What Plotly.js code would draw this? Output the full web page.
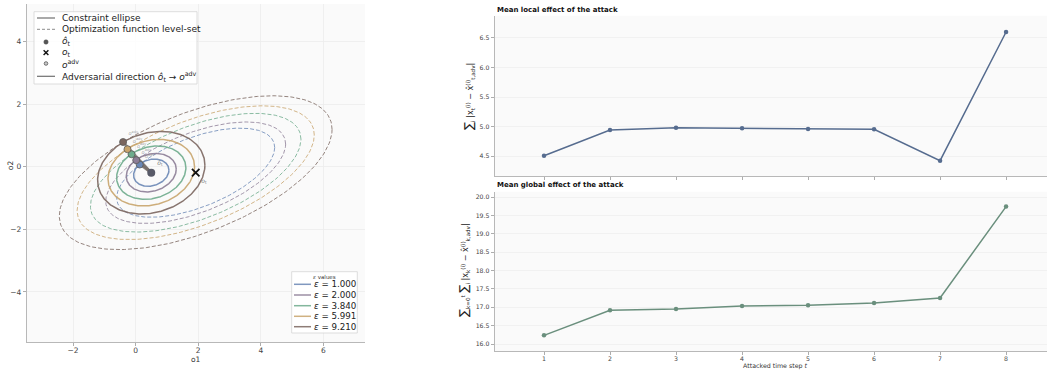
<!DOCTYPE html>
<html>
<head>
<meta charset="utf-8">
<script src="https://cdn.plot.ly/plotly-3.0.1.min.js"></script>
<style>html,body{margin:0;padding:0;background:#fff;overflow:hidden}#chart{width:1047px;height:371px}</style>
</head>
<body>
<div id="chart"></div>
<script>
// ---------- data ----------
const epsValues = [1.0, 2.0, 3.84, 5.991, 9.21];
const epsLabels = ["1.000", "2.000", "3.840", "5.991", "9.210"];
const epsColors = ["#6a87b5", "#8c7d96", "#6eab8c", "#c8a46c", "#7b665f"];
const oHat = [0.50, -0.19];
const oT = [1.92, -0.19];
const advX = [0.13, 0.02, -0.13, -0.26, -0.40];
const advY = [0.07, 0.21, 0.40, 0.56, 0.79];
const constraintCov = [[0.319, 0.045], [0.045, 0.189]];
const levelShape = [[1.0, 0.318], [0.318, 0.318]];

const steps = [1, 2, 3, 4, 5, 6, 7, 8];
const localEffect = [4.510, 4.944, 4.983, 4.972, 4.961, 4.955, 4.426, 6.596];
const globalEffect = [16.237, 16.918, 16.955, 17.036, 17.055, 17.118, 17.254, 19.744];

// ---------- helpers ----------
const W = 1047, H = 371;
const px = x => x / W;
const py = y => 1 - y / H;
const FONT = "DejaVu Sans, Liberation Sans, sans-serif";

function ellipse(center, cov, level, n) {
  const a = Math.sqrt(cov[0][0]);
  const b = cov[0][1] / a;
  const c = Math.sqrt(cov[1][1] - b * b);
  const s = Math.sqrt(level);
  const xs = [], ys = [];
  for (let i = 0; i <= n; i++) {
    const t = 2 * Math.PI * i / n;
    xs.push(center[0] + s * a * Math.cos(t));
    ys.push(center[1] + s * (b * Math.cos(t) + c * Math.sin(t)));
  }
  return [xs, ys];
}
function mahal(d, M) {
  const det = M[0][0] * M[1][1] - M[0][1] * M[1][0];
  const i00 = M[1][1] / det, i11 = M[0][0] / det, i01 = -M[0][1] / det;
  return i00 * d[0] * d[0] + 2 * i01 * d[0] * d[1] + i11 * d[1] * d[1];
}

const traces = [];
// level sets (dashed), centred at o_t and passing through each o_adv
epsValues.forEach((e, k) => {
  const lvl = mahal([advX[k] - oT[0], advY[k] - oT[1]], levelShape);
  const [xs, ys] = ellipse(oT, levelShape, lvl, 240);
  traces.push({x: xs, y: ys, mode: "lines", xaxis: "x", yaxis: "y", showlegend: false, hoverinfo: "skip",
    opacity: 0.8, line: {color: epsColors[k], width: 1, dash: "4px,2px"}});
});
// constraint ellipses (solid)
epsValues.forEach((e, k) => {
  const [xs, ys] = ellipse(oHat, constraintCov, e, 240);
  traces.push({x: xs, y: ys, mode: "lines", xaxis: "x", yaxis: "y", showlegend: false, hoverinfo: "skip",
    opacity: 0.9, line: {color: epsColors[k], width: 1.5}});
});
// adversarial directions
epsValues.forEach((e, k) => {
  traces.push({x: [oHat[0], advX[k]], y: [oHat[1], advY[k]], mode: "lines", xaxis: "x", yaxis: "y",
    showlegend: false, hoverinfo: "skip", opacity: 0.75, line: {color: "#7a706c", width: 2.5}});
});
// adversarial points
traces.push({x: advX, y: advY, mode: "markers+text", xaxis: "x", yaxis: "y", showlegend: false, hoverinfo: "skip",
  text: advX.map(() => "<i>o</i><sup>adv</sup>"), textposition: "top right",
  textfont: {family: FONT, size: 5, color: "rgba(120,120,120,0.7)"},
  marker: {size: 7, color: epsColors, line: {color: "#5a5a5a", width: 0.8}}});
// o_hat
traces.push({x: [oHat[0]], y: [oHat[1]], mode: "markers+text", xaxis: "x", yaxis: "y", showlegend: false, hoverinfo: "skip",
  text: ["<i>ô</i><sub>t</sub>"], textposition: "top right", textfont: {family: FONT, size: 6, color: "#777"},
  marker: {size: 8, color: "#585a68"}});
// o_t
traces.push({x: [oT[0]], y: [oT[1]], mode: "markers+text", xaxis: "x", yaxis: "y", showlegend: false, hoverinfo: "skip",
  text: ["<i>o</i><sub>t</sub>"], textposition: "bottom right", textfont: {family: FONT, size: 6, color: "#777"},
  marker: {symbol: "x-thin", size: 7.5, line: {color: "#111", width: 1.8}}});

// right plots
traces.push({x: steps, y: localEffect, mode: "lines+markers", xaxis: "x2", yaxis: "y2", showlegend: false,
  line: {color: "#566c8f", width: 1.5}, marker: {size: 4.5, color: "#566c8f"}});
traces.push({x: steps, y: globalEffect, mode: "lines+markers", xaxis: "x3", yaxis: "y3", showlegend: false,
  line: {color: "#6a8f7d", width: 1.5}, marker: {size: 4.5, color: "#6a8f7d"}});

// ---------- manual legends ----------
const shapes = [], annotations = [];
// left-top legend
shapes.push({type: "rect", xref: "paper", yref: "paper", x0: px(34), x1: px(197), y0: py(84), y1: py(11.7),
  fillcolor: "rgba(255,255,255,0.85)", line: {color: "#d4d4d4", width: 0.8}, layer: "above"});
const legRows = [18, 29.3, 42, 52.7, 63.5, 76.3];
const legText = ["Constraint ellipse", "Optimization function level-set", "<i>ô</i><sub>t</sub>", "<i>o</i><sub>t</sub>",
  "<i>o</i><sup>adv</sup>", "Adversarial direction <i>ô</i><sub>t</sub> → <i>o</i><sup>adv</sup>"];
shapes.push({type: "line", xref: "paper", yref: "paper", x0: px(37), x1: px(55), y0: py(legRows[0]), y1: py(legRows[0]),
  line: {color: "#707070", width: 1.2}, layer: "above"});
shapes.push({type: "line", xref: "paper", yref: "paper", x0: px(37), x1: px(55), y0: py(legRows[1]), y1: py(legRows[1]),
  line: {color: "#8c8c8c", width: 1, dash: "3px,2px"}, layer: "above"});
shapes.push({type: "circle", xref: "paper", yref: "paper", x0: px(43.8), x1: px(48.2), y0: py(legRows[2] + 2.2), y1: py(legRows[2] - 2.2),
  fillcolor: "#555", line: {color: "#555", width: 0.5}, layer: "above"});
shapes.push({type: "line", xref: "paper", yref: "paper", x0: px(43.6), x1: px(48.4), y0: py(legRows[3] + 2.4), y1: py(legRows[3] - 2.4),
  line: {color: "#111", width: 1.4}, layer: "above"});
shapes.push({type: "line", xref: "paper", yref: "paper", x0: px(43.6), x1: px(48.4), y0: py(legRows[3] - 2.4), y1: py(legRows[3] + 2.4),
  line: {color: "#111", width: 1.4}, layer: "above"});
shapes.push({type: "circle", xref: "paper", yref: "paper", x0: px(44.2), x1: px(47.8), y0: py(legRows[4] + 1.8), y1: py(legRows[4] - 1.8),
  fillcolor: "#c8c8c8", line: {color: "#555", width: 0.8}, layer: "above"});
shapes.push({type: "line", xref: "paper", yref: "paper", x0: px(37), x1: px(55), y0: py(legRows[5]), y1: py(legRows[5]),
  line: {color: "#707070", width: 1.2}, layer: "above"});
legText.forEach((t, i) => annotations.push({xref: "paper", yref: "paper", x: px(59.5), y: py(legRows[i]), xanchor: "left", yanchor: "middle",
  text: t, showarrow: false, font: {family: FONT, size: 9, color: "#222"}}));

// epsilon legend
shapes.push({type: "rect", xref: "paper", yref: "paper", x0: px(291.7), x1: px(357.3), y0: py(333), y1: py(271.7),
  fillcolor: "rgba(255,255,255,0.85)", line: {color: "#d4d4d4", width: 0.8}, layer: "above"});
annotations.push({xref: "paper", yref: "paper", x: px(324.5), y: py(276.8), xanchor: "center", yanchor: "middle",
  text: "<i>ε</i> values", showarrow: false, font: {family: FONT, size: 5.5, color: "#333"}});
const epsRows = [284.3, 295, 305.7, 316.3, 326.7];
epsValues.forEach((e, k) => {
  shapes.push({type: "line", xref: "paper", yref: "paper", x0: px(294), x1: px(311), y0: py(epsRows[k]), y1: py(epsRows[k]),
    line: {color: epsColors[k], width: 1.5}, opacity: 0.85, layer: "above"});
  annotations.push({xref: "paper", yref: "paper", x: px(312.3), y: py(epsRows[k]), xanchor: "left", yanchor: "middle",
    text: "<i>ε</i> = " + epsLabels[k], showarrow: false, font: {family: FONT, size: 8.7, color: "#222"}});
});

// axis labels / titles
annotations.push({xref: "paper", yref: "paper", x: px(195.7), y: py(359), xanchor: "center", yanchor: "middle",
  text: "o1", showarrow: false, font: {family: FONT, size: 7.5, color: "#333"}});
annotations.push({xref: "paper", yref: "paper", x: px(10.5), y: py(165.7), xanchor: "center", yanchor: "middle",
  text: "o2", textangle: -90, showarrow: false, font: {family: FONT, size: 7.5, color: "#333"}});
annotations.push({xref: "paper", yref: "paper", x: px(495), y: py(9.7), xanchor: "left", yanchor: "middle",
  text: "<b>Mean local effect of the attack</b>", showarrow: false, font: {family: FONT, size: 7, color: "#111"}});
annotations.push({xref: "paper", yref: "paper", x: px(495), y: py(185), xanchor: "left", yanchor: "middle",
  text: "<b>Mean global effect of the attack</b>", showarrow: false, font: {family: FONT, size: 7, color: "#111"}});
const SIG = '<span style="font-size:12px">∑</span>';
annotations.push({xref: "paper", yref: "paper", x: px(469), y: py(97), xanchor: "center", yanchor: "middle", textangle: -90,
  text: SIG + "<sub>i</sub> |x<sub>t</sub><sup>(i)</sup> − x̂<sup>(i)</sup><sub>t,adv</sub>|", showarrow: false,
  font: {family: FONT, size: 8, color: "#222"}});
annotations.push({xref: "paper", yref: "paper", x: px(464), y: py(270), xanchor: "center", yanchor: "middle", textangle: -90,
  text: SIG + "<sub>k=0</sub><sup>t</sup> " + SIG + "<sub>i</sub> |x<sub>k</sub><sup>(i)</sup> − x̂<sup>(i)</sup><sub>k,adv</sub>|", showarrow: false,
  font: {family: FONT, size: 8, color: "#222"}});
annotations.push({xref: "paper", yref: "paper", x: px(775), y: py(365.5), xanchor: "center", yanchor: "middle",
  text: "Attacked time step <i>t</i>", showarrow: false, font: {family: FONT, size: 6.3, color: "#333"}});

const axBase = {showline: true, linecolor: "#b8b8b8", linewidth: 1, zeroline: false, ticks: "outside", ticklen: 3,
  tickwidth: 0.8, tickcolor: "#999", gridcolor: "#ececec", gridwidth: 0.8, fixedrange: true};

const layout = {
  width: W, height: H, margin: {l: 0, r: 0, t: 0, b: 0},
  paper_bgcolor: "#ffffff", plot_bgcolor: "#fafafa", hovermode: false, showlegend: false,
  font: {family: FONT},
  xaxis: Object.assign({}, axBase, {domain: [px(26.7), px(365)], range: [-3.48, 7.33], anchor: "y",
    tickvals: [-2, 0, 2, 4, 6], ticktext: ["−2", "0", "2", "4", "6"], showgrid: true, ticklabelstandoff: -2,
    tickfont: {family: FONT, size: 7.5, color: "#444"}}),
  yaxis: Object.assign({}, axBase, {domain: [py(342), py(4)], range: [-5.6, 5.2], anchor: "x",
    tickvals: [-4, -2, 0, 2, 4], ticktext: ["−4", "−2", "0", "2", "4"], showgrid: true,
    tickfont: {family: FONT, size: 7.5, color: "#444"}}),
  xaxis2: Object.assign({}, axBase, {domain: [px(494.7), 1], range: [0.253, 8.62], anchor: "y2",
    tickvals: steps, showticklabels: false, showgrid: false}),
  yaxis2: Object.assign({}, axBase, {domain: [py(176), py(15.7)], range: [4.168, 6.871], anchor: "x2",
    tickvals: [4.5, 5.0, 5.5, 6.0, 6.5], tickformat: ".1f", showgrid: true, gridcolor: "#efefef",
    tickfont: {family: FONT, size: 6.2, color: "#444"}}),
  xaxis3: Object.assign({}, axBase, {domain: [px(494.7), 1], range: [0.253, 8.62], anchor: "y3",
    tickvals: steps, showgrid: false, ticklabelstandoff: -1, tickfont: {family: FONT, size: 6.2, color: "#444"}}),
  yaxis3: Object.assign({}, axBase, {domain: [py(351), py(191.7)], range: [15.81, 20.15], anchor: "x3",
    tickvals: [16, 16.5, 17, 17.5, 18, 18.5, 19, 19.5, 20], tickformat: ".1f", showgrid: true, gridcolor: "#efefef",
    tickfont: {family: FONT, size: 6.2, color: "#444"}}),
  shapes: shapes, annotations: annotations
};

Plotly.newPlot("chart", traces, layout, {displayModeBar: false, staticPlot: true});
</script>
</body>
</html>
